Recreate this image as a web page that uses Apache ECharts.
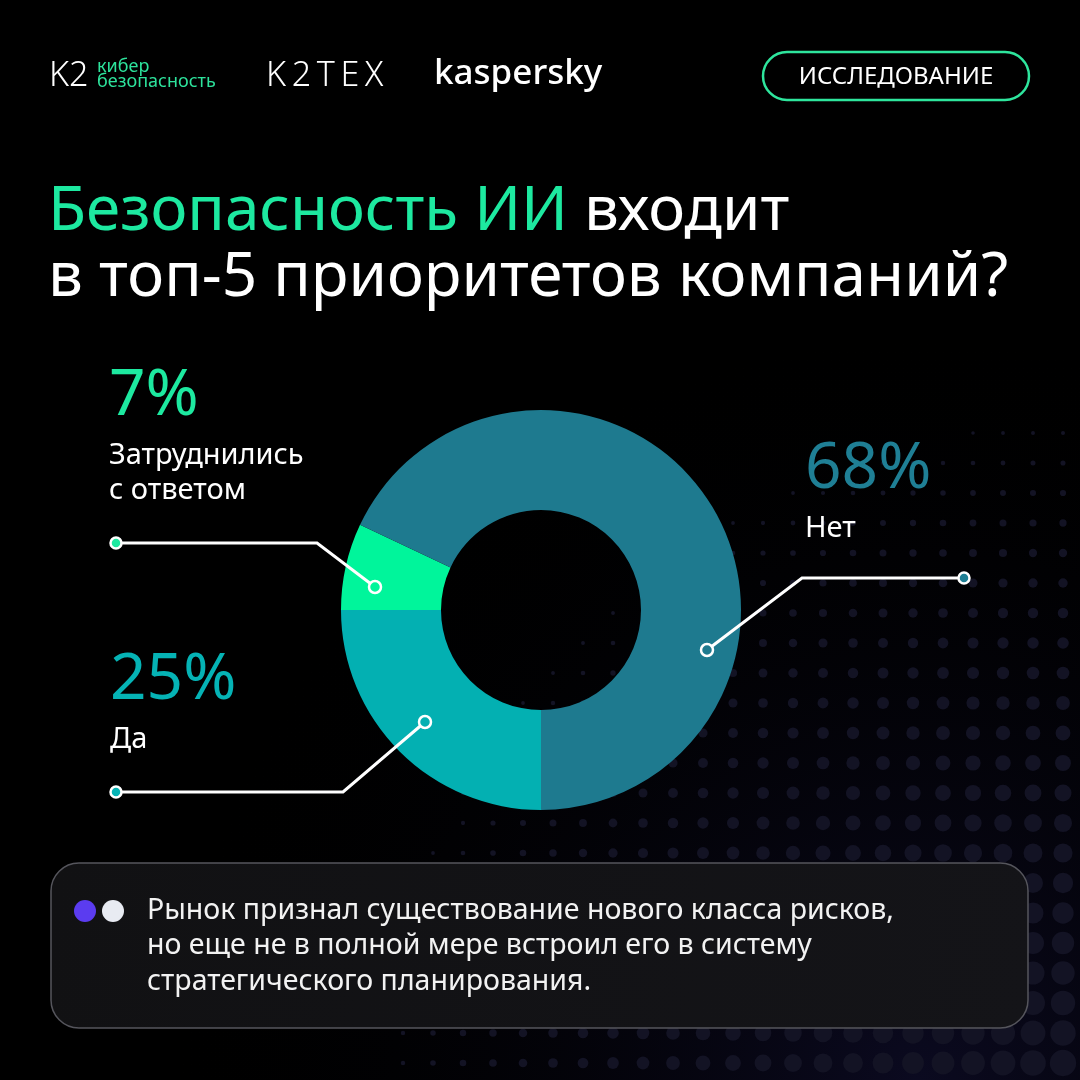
<!DOCTYPE html>
<html>
<head>
<meta charset="utf-8">
<script src="https://cdn.jsdelivr.net/npm/echarts@6/dist/echarts.min.js"></script>
<style>
html,body{margin:0;padding:0;background:#000;}
#chart{width:1080px;height:1080px;}
</style>
</head>
<body>
<div id="chart"></div>
<script>
// ---- data ----
const categories = ['Да', 'Затруднились\nс ответом', 'Нет'];
const values = [25, 7, 68];
const titleGreen = 'Безопасность ИИ';
const titleRest1 = 'входит';
const titleLine2 = 'в топ-5 приоритетов компаний?';
const noteLines = [
  'Рынок признал существование нового класса рисков,',
  'но еще не в полной мере встроил его в систему',
  'стратегического планирования.'
];
const badgeText = 'ИССЛЕДОВАНИЕ';

// ---- styles / layout ----
const sliceColors = ['#03b0b2', '#00f59b', '#1e7a8f'];
const pctColors = ['#05b3b5', '#1de9a0', '#1f7f95'];
const labelPos = [[110, 640], [109, 356], [805, 429]];
const linePts = [
  [[425, 722], [343, 792], [116, 792]],
  [[375, 587], [317, 543], [116, 543]],
  [[707, 650], [802, 578], [964, 578]]
];

const chart = echarts.init(document.getElementById('chart'), null, {renderer: 'canvas'});

const graphics = [];
// background glow
graphics.push({
  type: 'rect', z: -20, silent: true,
  shape: {x: 0, y: 0, width: 1080, height: 1080},
  style: {fill: {type: 'radial', x: 0.85, y: 1.0, r: 0.7,
    colorStops: [{offset: 0, color: '#0b0a20'}, {offset: 1, color: 'rgba(0,0,0,0)'}]}}
});
// halftone dots
for (let gx = 13; gx < 1080; gx += 30) {
  for (let gy = 13; gy < 1080; gy += 30) {
    const d = Math.sqrt(Math.pow((gx - 1110) * 0.95, 2) + Math.pow(gy - 1120, 2));
    const r = 14.5 * (1 - d / 800);
    if (r > 1.8) {
      graphics.push({type: 'circle', z: -10, silent: true,
        shape: {cx: gx, cy: gy, r: Math.min(r, 14)},
        style: {fill: '#131324'}});
    }
  }
}
// logos
graphics.push({type: 'text', z: 10, style: {x: 49, y: 76, text: 'K2', fill: '#fff',
  font: '300 34px "Noto Sans", sans-serif', verticalAlign: 'middle'}});
graphics.push({type: 'text', z: 10, style: {x: 97, y: 67, text: 'кибер', fill: '#2de39c',
  font: '400 18px "Noto Sans", sans-serif', verticalAlign: 'middle'}});
graphics.push({type: 'text', z: 10, style: {x: 97, y: 82, text: 'безопасность', fill: '#2de39c',
  font: '400 18px "Noto Sans", sans-serif', verticalAlign: 'middle'}});
graphics.push({type: 'text', z: 10, style: {x: 266, y: 76, text: 'K\u20092\u2009T\u2009E\u2009X', fill: '#fff',
  font: '300 34px "Noto Sans", sans-serif', verticalAlign: 'middle'}});
graphics.push({type: 'text', z: 10, style: {x: 434, y: 74, text: 'kaspersky', fill: '#fff',
  font: '500 35px "Noto Sans", sans-serif', verticalAlign: 'middle'}});
// badge
graphics.push({type: 'rect', z: 10, shape: {x: 763, y: 52, width: 266, height: 48, r: 24},
  style: {fill: 'none', stroke: '#2ee59d', lineWidth: 2.5}});
graphics.push({type: 'text', z: 10, style: {x: 896, y: 77, text: badgeText, fill: '#fff',
  font: '400 24px "Noto Sans", sans-serif', align: 'center', verticalAlign: 'middle'}});
// title
graphics.push({type: 'text', z: 10, style: {x: 48, y: 179,
  text: '{g|' + titleGreen + ' }{w|' + titleRest1 + '}\n{w|' + titleLine2 + '}',
  rich: {
    g: {fill: '#1de9a0', font: '400 62px "Noto Sans", sans-serif', lineHeight: 66},
    w: {fill: '#fff', font: '400 62px "Noto Sans", sans-serif', lineHeight: 66}
  }}});
// note box
graphics.push({type: 'rect', z: 20, shape: {x: 51, y: 863, width: 977, height: 165, r: 28},
  style: {fill: {type: 'linear', x: 0, y: 0, x2: 1, y2: 1,
    colorStops: [{offset: 0, color: '#111113'}, {offset: 1, color: '#141418'}]},
    stroke: '#55555c', lineWidth: 1.5}});
graphics.push({type: 'circle', z: 21, shape: {cx: 85, cy: 911, r: 11}, style: {fill: '#5b3cf0'}});
graphics.push({type: 'circle', z: 21, shape: {cx: 113, cy: 911, r: 11}, style: {fill: '#e8ebf2'}});
graphics.push({type: 'text', z: 21, style: {x: 147, y: 893, text: noteLines.join('\n'),
  fill: '#f2f2f2', font: '400 28.5px "Noto Sans", sans-serif', lineHeight: 35.5}});
// leader lines and dots
linePts.forEach((pts, i) => {
  graphics.push({type: 'polyline', z: 99, shape: {points: pts},
    style: {stroke: '#fff', lineWidth: 3, fill: 'none'}});
  graphics.push({type: 'circle', z: 100, shape: {cx: pts[0][0], cy: pts[0][1], r: 6},
    style: {fill: sliceColors[i], stroke: '#fff', lineWidth: 2.5}});
  graphics.push({type: 'circle', z: 100, shape: {cx: pts[2][0], cy: pts[2][1], r: 5.5},
    style: {fill: pctColors[i], stroke: '#fff', lineWidth: 2.5}});
});

const rich = {
  n: {fontFamily: '"Noto Sans", sans-serif', fontSize: 29, color: '#fff', lineHeight: 35}
};
pctColors.forEach((c, i) => {
  rich['p' + i] = {fontFamily: '"Noto Sans", sans-serif', fontSize: 64, color: c, lineHeight: 82};
});

chart.setOption({
  backgroundColor: '#000',
  animation: false,
  graphic: graphics,
  series: [{
    type: 'pie',
    center: [541, 610],
    radius: [100, 200],
    startAngle: -90,
    clockwise: true,
    silent: true,
    emphasis: {disabled: true},
    data: categories.map((c, i) => ({name: c, value: values[i], itemStyle: {color: sliceColors[i]}})),
    label: {
      show: true,
      position: 'outside',
      formatter: p => '{p' + p.dataIndex + '|' + p.value + '%}\n{n|' + p.name + '}',
      rich: rich
    },
    labelLine: {show: false},
    labelLayout: p => ({
      x: labelPos[p.dataIndex][0],
      y: labelPos[p.dataIndex][1],
      align: 'left',
      verticalAlign: 'top'
    })
  }]
});
</script>
</body>
</html>
